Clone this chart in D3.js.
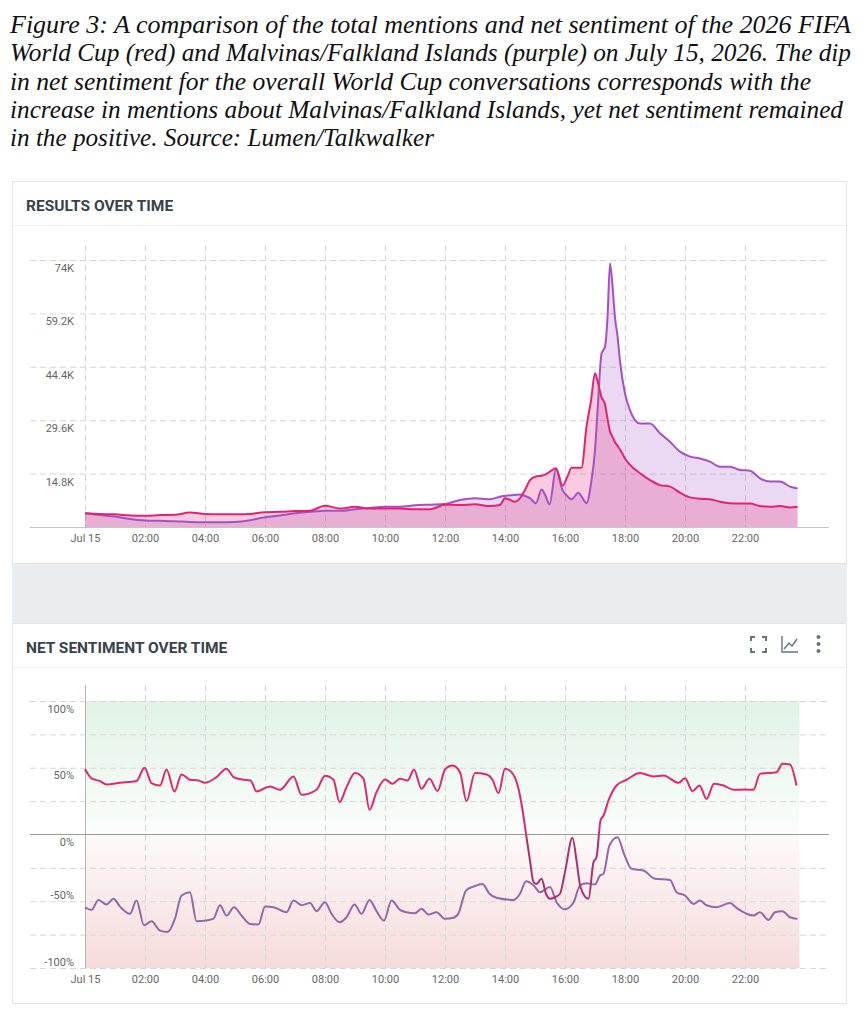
<!DOCTYPE html>
<html>
<head>
<meta charset="utf-8">
<script src="https://cdn.jsdelivr.net/npm/d3@7"></script>
<style>
  body { margin: 0; background: #fff; }
  svg { display: block; }
</style>
</head>
<body>
<div id="chart"></div>
<script>
// caption text
var captionLines = [
  "Figure 3: A comparison of the total mentions and net sentiment of the 2026 FIFA",
  "World Cup (red) and Malvinas/Falkland Islands (purple) on July 15, 2026. The dip",
  "in net sentiment for the overall World Cup conversations corresponds with the",
  "increase in mentions about Malvinas/Falkland Islands, yet net sentiment remained",
  "in the positive. Source: Lumen/Talkwalker"
];

// x axis ticks (hours after midnight, Jul 15)
var hourTicks = [0, 2, 4, 6, 8, 10, 12, 14, 16, 18, 20, 22];
var hourLabels = ["Jul 15", "02:00", "04:00", "06:00", "08:00", "10:00", "12:00", "14:00", "16:00", "18:00", "20:00", "22:00"];

// results over time : y ticks
var mentionTicks = [14800, 29600, 44400, 59200, 74000];
var mentionLabels = ["14.8K", "29.6K", "44.4K", "59.2K", "74K"];

// results over time : minutes after midnight, and mentions (thousands)
var mentionTimes = [0, 30, 60, 90, 120, 150, 180, 210, 240, 270,
  300, 330, 360, 390, 420, 450, 480, 510, 540, 570,
  600, 630, 660, 690, 720, 750, 780, 810, 830, 840,
  860, 870, 880, 890, 902, 913, 920, 929, 942, 955,
  965, 973, 987, 993, 1003, 1012, 1020, 1025, 1033, 1040,
  1045, 1050, 1055, 1060, 1065, 1070, 1080, 1090, 1110, 1130,
  1150, 1170, 1190, 1210, 1230, 1250, 1270, 1290, 1310, 1330,
  1350, 1370, 1390, 1410, 1425];
var worldCupMentions = [3.8, 3.6, 3.5, 3.2, 3.1, 3.3, 3.4, 4.0, 3.6, 3.5,
  3.5, 3.6, 4.1, 4.2, 4.4, 4.5, 5.9, 5.1, 5.6, 5.1,
  5.1, 5.1, 4.9, 4.9, 6.2, 6.1, 6.3, 5.8, 6.1, 8.0,
  7.0, 8.0, 10.3, 13.0, 14.0, 14.2, 14.5, 15.3, 16.3, 11.5,
  14.0, 16.4, 16.4, 16.4, 27.8, 35.0, 42.6, 40.5, 36.0, 34.0,
  30.0, 26.5, 25.0, 23.5, 22.5, 21.5, 19.0, 17.2, 14.9, 13.0,
  11.6, 11.2, 9.5, 8.2, 7.8, 7.7, 7.0, 6.6, 6.5, 6.5,
  5.8, 5.6, 5.8, 5.4, 5.6];
var malvinasMentions = [3.8, 3.3, 2.9, 2.2, 1.8, 1.7, 1.6, 1.4, 1.3, 1.3,
  1.4, 1.9, 2.7, 3.2, 3.8, 4.2, 4.5, 4.5, 4.9, 5.3,
  5.6, 5.6, 6.0, 6.2, 6.4, 7.5, 8.0, 7.7, 8.4, 8.6,
  8.9, 9.0, 8.6, 8.0, 6.6, 10.4, 9.0, 6.3, 16.0, 10.3,
  8.5, 7.7, 9.5, 8.5, 6.6, 12.0, 21.3, 32.0, 48.0, 50.0,
  58.0, 73.0, 67.0, 58.0, 53.0, 46.0, 37.0, 32.4, 28.7, 28.7,
  26.0, 23.6, 20.9, 19.5, 19.0, 18.1, 16.7, 16.7, 15.8, 15.6,
  13.5, 12.6, 12.6, 11.2, 10.7];

// net sentiment : y ticks
var sentimentGrid = [100, 75, 50, 25, -25, -50, -75, -100];
var sentimentTicks = [100, 50, 0, -50, -100];
var sentimentLabels = ["100%", "50%", "0%", "-50%", "-100%"];

// net sentiment World Cup : [minutes after midnight, percent]
var worldCupSentiment = [[0, 49], [13, 42], [30, 40], [43, 37.5], [70, 38.7], [103, 40], [119, 50], [133, 38.5],
  [150, 36.7], [163, 48.7], [179, 32.2], [193, 45], [210, 41], [227, 40.5], [240, 38.7], [263, 43],
  [283, 49.2], [297, 43], [317, 41], [331, 40.5], [343, 32.2], [370, 36], [390, 33.5], [417, 43.5],
  [433, 29.7], [463, 33.5], [480, 44], [497, 41], [509, 24.2], [523, 35.5], [540, 46], [557, 41.7],
  [569, 18.5], [583, 31.7], [600, 41.2], [615, 38], [630, 41.7], [645, 40.5], [658, 48.5], [673, 34.2],
  [689, 41.7], [705, 32.5], [720, 48.7], [735, 51.7], [750, 46.7], [763, 25], [780, 46], [803, 45],
  [815, 41], [827, 31], [840, 49.2], [853, 46.7], [867, 34.2], [873, 23], [883, -2], [890, -19.5],
  [897, -35.7], [903, -37], [913, -33.2], [922, -44.4], [930, -48.2], [940, -47], [950, -44.4],
  [960, -28], [975, -2.5], [983, -19.5], [991, -39.4], [1007, -48.2], [1017, -20.7], [1023, -17],
  [1031, 10.5], [1037, 14.2], [1047, 25.5], [1063, 36.7], [1083, 41], [1110, 46], [1137, 43.5],
  [1157, 44.2], [1187, 38.7], [1200, 42.2], [1215, 32.5], [1229, 36.7], [1243, 26.7], [1258, 38],
  [1277, 36.7], [1297, 33.5], [1320, 33.7], [1337, 33.5], [1350, 45.4], [1383, 46.7], [1395, 53],
  [1410, 52.4], [1423, 36.7]];

// net sentiment Malvinas : [minutes after midnight, percent]
var malvinasSentiment = [[0, -54.5], [13, -56.5], [27, -49], [43, -52.4], [57, -48.2], [70, -54], [90, -59.4],
  [103, -49.4], [118, -68], [133, -65], [150, -72], [165, -73], [180, -63], [193, -45.7], [210, -43.2],
  [223, -65], [243, -64.4], [257, -63], [270, -53], [283, -60.7], [298, -54.5], [313, -60.7], [330, -67],
  [347, -67.4], [360, -54], [377, -54.5], [403, -58.2], [417, -49.4], [433, -53], [450, -51.4],
  [463, -57.4], [480, -50.7], [493, -59.4], [509, -65.7], [523, -62], [539, -52.4], [553, -59.4],
  [569, -49], [583, -57.4], [598, -64.4], [613, -49.4], [630, -56.5], [643, -58.2], [660, -59],
  [673, -55.7], [687, -60], [703, -58.2], [720, -63.2], [737, -62.4], [747, -59], [762, -42], [777, -39],
  [795, -37], [809, -44.4], [823, -47.4], [857, -49], [870, -44.4], [882, -35], [897, -38], [910, -43.2],
  [930, -39.4], [943, -50.5], [960, -56], [977, -51], [990, -38.2], [1003, -36.5], [1020, -37.5],
  [1030, -30.7], [1037, -29.5], [1049, -8], [1065, -2], [1078, -14.5], [1093, -25.7], [1117, -27],
  [1140, -33.2], [1170, -34], [1183, -43.2], [1200, -45.7], [1217, -52], [1230, -49.4], [1243, -53],
  [1263, -54.5], [1290, -51.4], [1303, -55], [1337, -60.7], [1350, -58.2], [1367, -64], [1380, -58.2],
  [1395, -57.4], [1410, -62], [1425, -63.2]];

var W = 863, H = 1024;
var uiFont = "Roboto, 'Noto Sans', sans-serif";
var svg = d3.select("#chart").append("svg").attr("width", W).attr("height", H);
var defs = svg.append("defs");

// ---------- caption ----------
// widths the lines take in the picture
var captionWidths = [841, 841, 801, 833, 424];
var cap = svg.append("g")
  .attr("font-family", "'Liberation Serif', 'Times New Roman', serif")
  .attr("font-style", "italic")
  .attr("font-size", 24.5)
  .attr("fill", "#111");
cap.selectAll("text").data(captionLines).enter().append("text")
  .attr("x", 10)
  .attr("y", (d, i) => 33 + i * 28.3)
  .attr("textLength", (d, i) => captionWidths[i])
  .attr("lengthAdjust", "spacingAndGlyphs")
  .text(d => d);

// ---------- cards ----------
svg.append("rect").attr("x", 12).attr("y", 562).attr("width", 835).attr("height", 62).attr("fill", "#e9edf0");

function card(y0, y1, title) {
  svg.append("rect")
    .attr("x", 12.5).attr("y", y0 + 0.5)
    .attr("width", 834).attr("height", y1 - y0)
    .attr("fill", "#fff").attr("stroke", "#e1e4e7");
  svg.append("line")
    .attr("x1", 13).attr("x2", 846)
    .attr("y1", y0 + 44.5).attr("y2", y0 + 44.5)
    .attr("stroke", "#eef0f2");
  svg.append("text")
    .attr("x", 26).attr("y", y0 + 29.5)
    .attr("font-family", uiFont).attr("font-size", 15.5).attr("font-weight", 700)
    .attr("fill", "#37434c")
    .text(title);
}
card(181, 563, "RESULTS OVER TIME");
card(623, 1003, "NET SENTIMENT OVER TIME");

// header icons (bottom card)
var icons = svg.append("g").attr("stroke", "#66747f").attr("fill", "none").attr("stroke-width", 2);
icons.append("path").attr("d",
  "M751,641 V637 H755 M762,637 H766 V641 M766,648 V652 H762 M755,652 H751 V648");
icons.append("path").attr("stroke-width", 1.4).attr("d", "M782,636 V652 H798");
icons.append("path").attr("stroke-width", 1.4).attr("d", "M784,649 L789,643 L792,646 L797,639");
[637, 644, 651].forEach(function (cy) {
  svg.append("circle").attr("cx", 818.5).attr("cy", cy).attr("r", 2).attr("fill", "#66747f");
});

// ---------- shared x scale ----------
var day0 = new Date(2026, 6, 15);
var x = d3.scaleTime()
  .domain([day0, d3.timeMinute.offset(day0, 1488)])
  .range([85, 829]);
function tx(m) { return x(d3.timeMinute.offset(day0, m)); }
var hourDates = hourTicks.map(h => d3.timeHour.offset(day0, h));

function styleGrid(g) {
  g.select(".domain").remove();
  g.selectAll(".tick line").attr("stroke", "#d6d6d6").attr("stroke-dasharray", "6,4");
  g.selectAll(".tick text").attr("font-family", uiFont).attr("font-size", 11).attr("fill", "#666");
}

// ---------- RESULTS OVER TIME ----------
var yTop = d3.scaleLinear().domain([0, 74000]).range([527, 260]);

var gxTop = svg.append("g").attr("transform", "translate(0,245)")
  .call(d3.axisBottom(x).tickValues(hourDates).tickSize(282).tickPadding(7)
    .tickFormat((d, i) => hourLabels[i]));
styleGrid(gxTop);

var gyTop = svg.append("g").attr("transform", "translate(30,0)")
  .call(d3.axisRight(yTop).tickValues(mentionTicks).tickSize(799)
    .tickFormat((d, i) => mentionLabels[i]));
styleGrid(gyTop);
gyTop.selectAll(".tick text").attr("x", 44).attr("y", 8).attr("text-anchor", "end");

var topRows = mentionTimes.map((t, i) => ({ t: t, wc: worldCupMentions[i] * 1000, mv: malvinasMentions[i] * 1000 }));

var areaTop = key => d3.area().curve(d3.curveMonotoneX)
  .x(d => tx(d.t)).y0(yTop(0)).y1(d => yTop(d[key]));
var lineTop = key => d3.line().curve(d3.curveMonotoneX)
  .x(d => tx(d.t)).y(d => yTop(d[key]));

svg.append("path").datum(topRows).attr("d", areaTop("mv")).attr("fill", "rgba(166,79,198,0.22)");
svg.append("path").datum(topRows).attr("d", areaTop("wc")).attr("fill", "rgba(226,36,111,0.23)");

svg.append("line").attr("x1", 30).attr("x2", 829).attr("y1", 527.5).attr("y2", 527.5).attr("stroke", "#c4c8cc");

svg.append("path").datum(topRows).attr("d", lineTop("mv"))
  .attr("fill", "none").attr("stroke", "#a64fc6").attr("stroke-width", 2);
svg.append("path").datum(topRows).attr("d", lineTop("wc"))
  .attr("fill", "none").attr("stroke", "#e2246f").attr("stroke-width", 2);

// ---------- NET SENTIMENT OVER TIME ----------
var yBot = d3.scaleLinear().domain([-100, 100]).range([968, 701]);
var lastT = d3.max(worldCupSentiment, d => d[0]);

var gPos = defs.append("linearGradient").attr("id", "gPos").attr("x1", 0).attr("x2", 0).attr("y1", 0).attr("y2", 1);
gPos.append("stop").attr("offset", "0%").attr("stop-color", "#e0f3e5");
gPos.append("stop").attr("offset", "100%").attr("stop-color", "#fbfdfc");
var gNeg = defs.append("linearGradient").attr("id", "gNeg").attr("x1", 0).attr("x2", 0).attr("y1", 0).attr("y2", 1);
gNeg.append("stop").attr("offset", "0%").attr("stop-color", "#fdf9f9");
gNeg.append("stop").attr("offset", "100%").attr("stop-color", "#f6dbdb");

svg.append("rect").attr("x", tx(0)).attr("y", yBot(100))
  .attr("width", tx(lastT) - tx(0) + 3).attr("height", yBot(0) - yBot(100)).attr("fill", "url(#gPos)");
svg.append("rect").attr("x", tx(0)).attr("y", yBot(0))
  .attr("width", tx(lastT) - tx(0) + 3).attr("height", yBot(-100) - yBot(0)).attr("fill", "url(#gNeg)");

var gxBot = svg.append("g").attr("transform", "translate(0,685)")
  .call(d3.axisBottom(x).tickValues(hourDates).tickSize(283).tickPadding(7)
    .tickFormat((d, i) => hourLabels[i]));
styleGrid(gxBot);

var gyBot = svg.append("g").attr("transform", "translate(30,0)")
  .call(d3.axisRight(yBot).tickValues(sentimentGrid).tickSize(799).tickFormat(""));
styleGrid(gyBot);

svg.append("g").selectAll("text").data(sentimentTicks).enter().append("text")
  .attr("x", 74)
  .attr("y", d => yBot(d) + (d < 0 ? -6 : 8))
  .attr("dy", "0.32em")
  .attr("text-anchor", "end")
  .attr("font-family", uiFont).attr("font-size", 11).attr("fill", "#666")
  .text((d, i) => sentimentLabels[i]);

// axis line and zero line
svg.append("line").attr("x1", 85.5).attr("x2", 85.5).attr("y1", 685).attr("y2", 968).attr("stroke", "#b4b4b4");
svg.append("line").attr("x1", 30).attr("x2", 829).attr("y1", yBot(0)).attr("y2", yBot(0))
  .attr("stroke", "#9c9c9c").attr("stroke-width", 1.2);

// clip paths for the world cup line (darker below zero)
defs.append("clipPath").attr("id", "abovZero").append("rect")
  .attr("x", 0).attr("y", 0).attr("width", W).attr("height", yBot(0));
defs.append("clipPath").attr("id", "belowZero").append("rect")
  .attr("x", 0).attr("y", yBot(0)).attr("width", W).attr("height", H - yBot(0));

var lineBot = d3.line().curve(d3.curveMonotoneX)
  .x(d => tx(d[0])).y(d => yBot(d[1]));

svg.append("path").datum(malvinasSentiment).attr("d", lineBot)
  .attr("fill", "none").attr("stroke", "#9467a8").attr("stroke-width", 2);
svg.append("path").datum(worldCupSentiment).attr("d", lineBot)
  .attr("clip-path", "url(#abovZero)")
  .attr("fill", "none").attr("stroke", "#e0286e").attr("stroke-width", 2);
svg.append("path").datum(worldCupSentiment).attr("d", lineBot)
  .attr("clip-path", "url(#belowZero)")
  .attr("fill", "none").attr("stroke", "#a8336f").attr("stroke-width", 2);
</script>
</body>
</html>
